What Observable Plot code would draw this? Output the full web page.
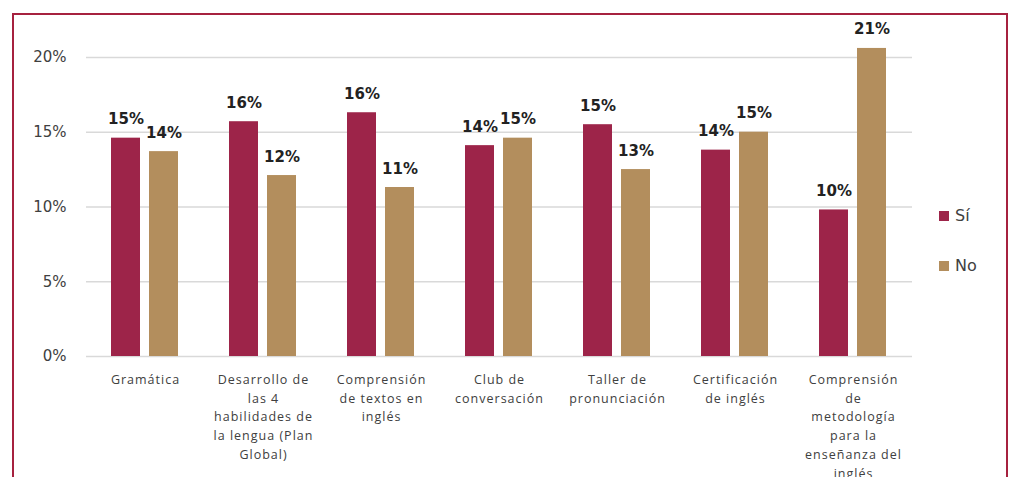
<!DOCTYPE html>
<html>
<head>
<meta charset="utf-8">
<script src="https://cdn.jsdelivr.net/npm/d3@7"></script>
<script src="https://cdn.jsdelivr.net/npm/@observablehq/plot@0.6"></script>
<style>
  html, body { margin: 0; padding: 0; background: #fff; }
  #wrap { position: relative; width: 1009px; height: 477px; overflow: hidden; }
  #frame { position: absolute; left: 12px; top: 13px; width: 996px; height: 500px; border: 2px solid #A6213F; box-sizing: border-box; }
  #chart { position: absolute; left: 0; top: 0; }
  .legend { position: absolute; left: 939px; font-family: "DejaVu Sans", sans-serif; font-size: 16px; color: #404040; display: flex; align-items: center; }
  .legend span.sw { display: inline-block; width: 10px; height: 10px; margin-right: 6px; }
  .chart g[aria-label="fx-axis tick label"] { letter-spacing: 1px; }
</style>
</head>
<body>
<div id="wrap">
  <div id="frame"></div>
  <div id="chart"></div>
  <div id="legend"></div>
</div>
<script>
const categories = [
  "Gramática",
  "Desarrollo de las 4 habilidades de la lengua (Plan Global)",
  "Comprensión de textos en inglés",
  "Club de conversación",
  "Taller de pronunciación",
  "Certificación de inglés",
  "Comprensión de metodología para la enseñanza del inglés"
];
const tickLabels = [
  "Gramática",
  "Desarrollo de\nlas 4\nhabilidades de\nla lengua (Plan\nGlobal)",
  "Comprensión\nde textos en\ninglés",
  "Club de\nconversación",
  "Taller de\npronunciación",
  "Certificación\nde inglés",
  "Comprensión\nde\nmetodología\npara la\nenseñanza del\ninglés"
];
const series = ["Sí", "No"];
const seriesColors = ["#9D2449", "#B38E5D"];
const siValues = [14.6, 15.7, 16.3, 14.1, 15.5, 13.8, 9.8];
const noValues = [13.7, 12.1, 11.3, 14.6, 12.5, 15.0, 20.6];
const siLabels = ["15%", "16%", "16%", "14%", "15%", "14%", "10%"];
const noLabels = ["14%", "12%", "11%", "15%", "13%", "15%", "21%"];
const yTicks = [0, 5, 10, 15, 20];

const data = [];
categories.forEach((c, i) => {
  data.push({cat: c, serie: "Sí", value: siValues[i], label: siLabels[i]});
  data.push({cat: c, serie: "No", value: noValues[i], label: noLabels[i]});
});

const chart = Plot.plot({
  width: 1009,
  height: 477,
  marginLeft: 84,
  marginRight: 95,
  marginTop: 27,
  marginBottom: 121,
  className: "chart",
  style: {fontFamily: "DejaVu Sans, sans-serif", background: "transparent"},
  fx: {domain: categories, padding: 0, axis: null},
  x: {domain: series, paddingInner: 0.23, paddingOuter: 0.636, axis: null},
  y: {domain: [0, 22], axis: null},
  color: {domain: series, range: seriesColors},
  marks: [
    Plot.gridY(yTicks, {stroke: "#d9d9d9", strokeOpacity: 1, strokeWidth: 1.5}),
    Plot.axisY(yTicks, {label: null, tickSize: 0, tickPadding: 20, tickFormat: d => d + "%", fontSize: 15, fill: "#404040"}),
    Plot.barY(data, {fx: "cat", x: "serie", y: "value", fill: "serie"}),
    Plot.text(data, {fx: "cat", x: "serie", y: "value", text: "label", dy: -14, lineAnchor: "bottom", fontWeight: "bold", fontSize: 15, fill: "#222"}),
    Plot.axisFx({anchor: "bottom", label: null, tickSize: 0, tickPadding: 14, tickFormat: d => tickLabels[categories.indexOf(d)], fontSize: 12.5, lineHeight: 1.5, fill: "#404040", fontFamily: "Open Sans"})
  ]
});
document.getElementById("chart").appendChild(chart);

const legend = document.getElementById("legend");
const legendTops = [206, 256];
series.forEach((s, i) => {
  const item = document.createElement("div");
  item.className = "legend";
  item.style.top = legendTops[i] + "px";
  item.innerHTML = `<span class="sw" style="background:${seriesColors[i]}"></span>${s}`;
  legend.appendChild(item);
});
</script>
</body>
</html>
